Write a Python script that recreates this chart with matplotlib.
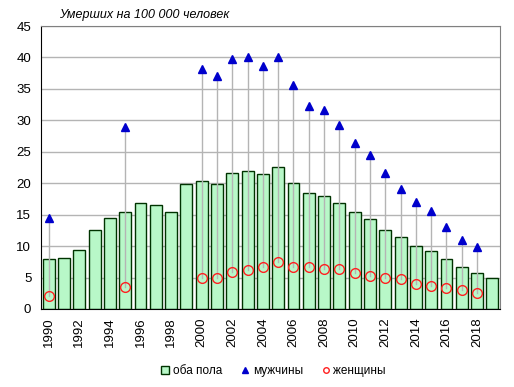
import numpy as np
import matplotlib
matplotlib.use('Agg')
import matplotlib.pyplot as plt
from matplotlib.lines import Line2D
from matplotlib.patches import Patch

plt.rcParams['font.family'] = ['Liberation Sans', 'DejaVu Sans']

years = list(range(1990, 2020))
both = [7.9, 8.05, 9.3, 12.5, 14.4, 15.4, 16.8, 16.6, 15.4, 19.8,
        20.3, 19.8, 21.6, 21.9, 21.5, 22.5, 20.0, 18.4, 17.9, 16.8,
        15.4, 14.3, 12.5, 11.4, 10.0, 9.2, 7.9, 6.6, 5.8, 5.0]
male = [14.5, None, None, None, None, 29.0, None, None, None, None,
        38.2, 37.1, 39.8, 40.0, 38.7, 40.1, 35.6, 32.3, 31.6, 29.3,
        26.4, 24.5, 21.7, 19.1, 17.0, 15.6, 13.1, 11.0, 9.9, None]
female = [2.1, None, None, None, None, 3.5, None, None, None, None,
          5.0, 5.0, 5.9, 6.25, 6.6, 7.4, 6.6, 6.6, 6.3, 6.3,
          5.8, 5.3, 4.9, 4.7, 4.0, 3.7, 3.3, 3.0, 2.5, None]
tick_years = list(range(1990, 2019, 2))

fig = plt.figure(figsize=(5.14, 3.87), dpi=100)
ax = fig.add_axes([0.0798, 0.2016, 0.893, 0.7312])

x = np.arange(len(years))
ax.bar(x, both, width=0.78, color='#b8f8c8', edgecolor='#003300', linewidth=1.0, zorder=2)

# high-low lines between women and men
for i in range(len(years)):
    if male[i] is not None and female[i] is not None:
        ax.plot([x[i], x[i]], [female[i], male[i]], color='#b4b4b4', lw=1.0, zorder=3)

mx = [x[i] for i in range(len(years)) if male[i] is not None]
my = [v for v in male if v is not None]
fx = [x[i] for i in range(len(years)) if female[i] is not None]
fy = [v for v in female if v is not None]
ax.plot(mx, my, ls='none', marker='^', ms=6, color='#0000cc', mec='#0000cc', zorder=4)
ax.plot(fx, fy, ls='none', marker='o', ms=7, mfc='none', mec='#ff2020', mew=1.0, zorder=4)

ax.set_xlim(-0.5, len(years) - 0.5)
ax.set_ylim(0, 45)
ax.set_yticks(range(0, 46, 5))
ax.yaxis.grid(True, color='#b4b4b4', lw=1.0, zorder=0)
ax.set_axisbelow(True)
ax.set_xticks([years.index(y) for y in tick_years])
ax.set_xticklabels([str(y) for y in tick_years], rotation=90)
ax.tick_params(axis='both', length=0, labelsize=9.5)
ax.tick_params(axis='y', pad=7)
ax.tick_params(axis='x', pad=6)

for s in ['top', 'right']:
    ax.spines[s].set_color('#808080')
for s in ['left', 'bottom']:
    ax.spines[s].set_color('black')

fig.text(0.115, 0.962, 'Умерших на 100 000 человек', style='italic', fontsize=9, ha='left', va='center')

handles = [
    Patch(facecolor='#b8f8c8', edgecolor='#003300', label='оба пола'),
    Line2D([], [], ls='none', marker='^', ms=4, color='#0000cc', label='мужчины'),
    Line2D([], [], ls='none', marker='o', ms=4, mfc='none', mec='#ff2020', label='женщины'),
]
fig.legend(handles=handles, loc='center', bbox_to_anchor=(0.532, 0.041), ncol=3, frameon=False,
           fontsize=8.5, handlelength=0.7, handletextpad=0.3, columnspacing=1.6)

fig.savefig('out.png', dpi=100)
